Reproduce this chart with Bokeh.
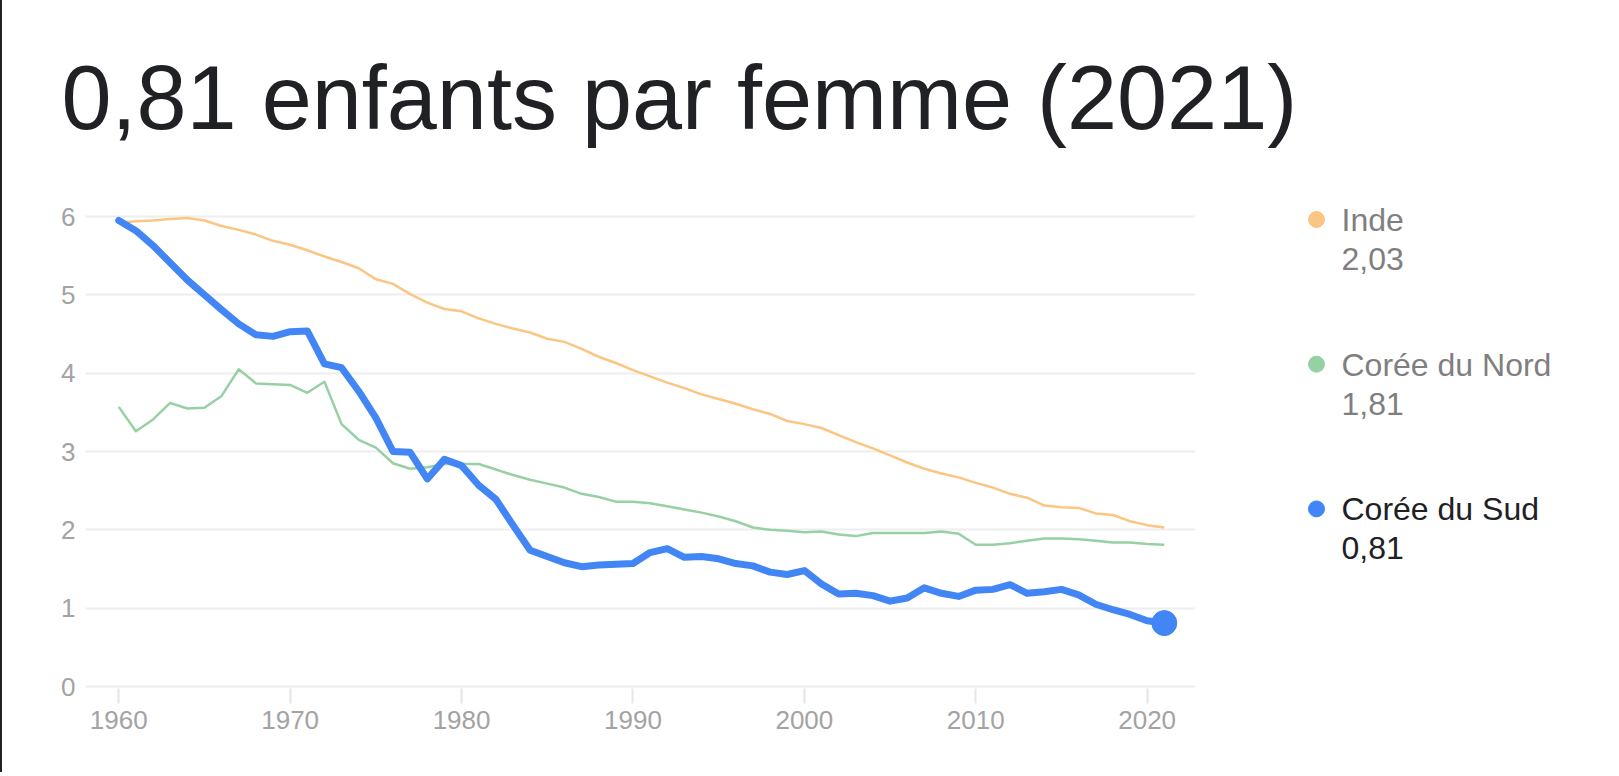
from bokeh.plotting import figure
from bokeh.models import Range1d, FixedTicker, Div
from bokeh.layouts import row
from bokeh.embed import file_html
from bokeh.resources import INLINE
from bokeh.core.properties import value

years = list(range(1960, 2022))

inde = [5.92, 5.94, 5.95, 5.97, 5.98, 5.95, 5.88, 5.83, 5.77, 5.69,
        5.64, 5.57, 5.49, 5.42, 5.34, 5.20, 5.14, 5.01, 4.90, 4.82,
        4.79, 4.70, 4.63, 4.57, 4.52, 4.44, 4.40, 4.31, 4.21, 4.13,
        4.04, 3.96, 3.88, 3.81, 3.73, 3.67, 3.61, 3.54, 3.48, 3.39,
        3.35, 3.30, 3.21, 3.12, 3.04, 2.95, 2.86, 2.78, 2.72, 2.67,
        2.60, 2.54, 2.46, 2.41, 2.31, 2.29, 2.28, 2.21, 2.19, 2.11,
        2.06, 2.03]

coree_nord = [3.57, 3.26, 3.41, 3.62, 3.55, 3.56, 3.71, 4.05, 3.87, 3.86,
              3.85, 3.75, 3.89, 3.35, 3.15, 3.05, 2.85, 2.78, 2.80, 2.84,
              2.84, 2.84, 2.77, 2.70, 2.64, 2.59, 2.54, 2.46, 2.42, 2.36,
              2.36, 2.34, 2.30, 2.26, 2.22, 2.17, 2.11, 2.03, 2.00, 1.99,
              1.97, 1.98, 1.94, 1.92, 1.96, 1.96, 1.96, 1.96, 1.98, 1.95,
              1.81, 1.81, 1.83, 1.86, 1.89, 1.89, 1.88, 1.86, 1.84, 1.84,
              1.82, 1.81]

coree_sud = [5.95, 5.82, 5.63, 5.41, 5.19, 5.00, 4.81, 4.63, 4.49, 4.47,
             4.53, 4.54, 4.12, 4.07, 3.77, 3.43, 3.00, 2.99, 2.65, 2.90,
             2.82, 2.57, 2.39, 2.06, 1.74, 1.66, 1.58, 1.53, 1.55, 1.56,
             1.57, 1.71, 1.76, 1.65, 1.66, 1.63, 1.57, 1.54, 1.46, 1.43,
             1.48, 1.31, 1.18, 1.19, 1.16, 1.09, 1.13, 1.26, 1.19, 1.15,
             1.23, 1.24, 1.30, 1.19, 1.21, 1.24, 1.17, 1.05, 0.98, 0.92,
             0.84, 0.81]

series_names = ["Inde", "Corée du Nord", "Corée du Sud"]
series_values = [inde, coree_nord, coree_sud]
series_colors = ["#fbc583", "#97d1a3", "#4285f4"]
legend_text_colors = ["#7f7f7f", "#7f7f7f", "#202124"]

x_ticks = [1960, 1970, 1980, 1990, 2000, 2010, 2020]
y_ticks = [0, 1, 2, 3, 4, 5, 6]


def fr(v):
    return f"{v:.2f}".replace(".", ",")


title_text = f"{fr(coree_sud[-1])} enfants par femme ({years[-1]})"

FONT = "Liberation Sans"
H = 772
TOP = 188
BOTTOM = 688

edge = Div(width=2, height=H, margin=0, styles={"background-color": "#222222"})

p = figure(width=1302, height=H,
           x_range=Range1d(1958.06, 2022.82), y_range=Range1d(-0.0255, 6.358),
           output_backend="svg", toolbar_location=None,
           min_border_left=83, min_border_right=1302 - 83 - 1110,
           min_border_top=TOP, min_border_bottom=H - BOTTOM)
p.outline_line_color = None
p.background_fill_color = "white"
p.border_fill_color = "white"

p.title.text = title_text
p.title.text_font = FONT
p.title.text_font_size = "90px"
p.title.text_font_style = "normal"
p.title.text_color = "#202124"
p.title.align = "left"
p.title.offset = -24
p.title.standoff = 82

p.xgrid.visible = False
p.ygrid.grid_line_color = "#eeeeee"
p.ygrid.grid_line_width = 2
p.ygrid.ticker = FixedTicker(ticks=y_ticks)

p.xaxis.ticker = FixedTicker(ticks=x_ticks)
p.xaxis.axis_line_color = None
p.xaxis.major_tick_line_color = "#e6e6e6"
p.xaxis.major_tick_line_width = 2
p.xaxis.major_tick_out = 15
p.xaxis.major_tick_in = 0
p.xaxis.minor_tick_line_color = None
p.xaxis.major_label_text_font = FONT
p.xaxis.major_label_text_font_size = "26px"
p.xaxis.major_label_text_color = "#a3a3a3"
p.xaxis.major_label_standoff = 7

p.yaxis.ticker = FixedTicker(ticks=y_ticks)
p.yaxis.axis_line_color = None
p.yaxis.major_tick_line_color = None
p.yaxis.major_tick_out = 0
p.yaxis.major_tick_in = 0
p.yaxis.minor_tick_line_color = None
p.yaxis.major_label_text_font = FONT
p.yaxis.major_label_text_font_size = "26px"
p.yaxis.major_label_text_color = "#a3a3a3"
p.yaxis.major_label_standoff = 10

p.line(years, inde, line_color=series_colors[0], line_width=2.5, line_join="round")
p.line(years, coree_nord, line_color=series_colors[1], line_width=2.5, line_join="round")
p.line(years, coree_sud, line_color=series_colors[2], line_width=7,
       line_join="round", line_cap="round")
p.scatter([years[-1]], [coree_sud[-1]], marker="circle", size=25,
          fill_color=series_colors[2], line_color=series_colors[2])

# legend panel (frame aligned with main frame; data units = page pixels)
LW = 310
lg = figure(width=LW, height=H, x_range=Range1d(0, LW), y_range=Range1d(BOTTOM, TOP),
            output_backend="svg", toolbar_location=None,
            x_axis_location=None, y_axis_location=None,
            min_border_left=0, min_border_right=0,
            min_border_top=TOP, min_border_bottom=H - BOTTOM)
lg.outline_line_color = None
lg.grid.visible = False
lg.background_fill_color = "white"
lg.border_fill_color = "white"

step = 144.7
for i, name in enumerate(series_names):
    cy = 219 + i * step
    lg.scatter([12], [cy], marker="circle", size=16,
               fill_color=series_colors[i], line_color=series_colors[i])
    lg.text([37], [cy + 0.3], text=[name], text_font=value(FONT),
            text_font_size="32px", text_color=legend_text_colors[i],
            text_baseline="alphabetic", text_align="left")
    lg.text([37], [cy + 39.5], text=[fr(series_values[i][-1])], text_font=value(FONT),
            text_font_size="32px", text_color=legend_text_colors[i],
            text_baseline="alphabetic", text_align="left")

layout = row(edge, p, lg)
open("out.html", "w").write(file_html(layout, INLINE))
